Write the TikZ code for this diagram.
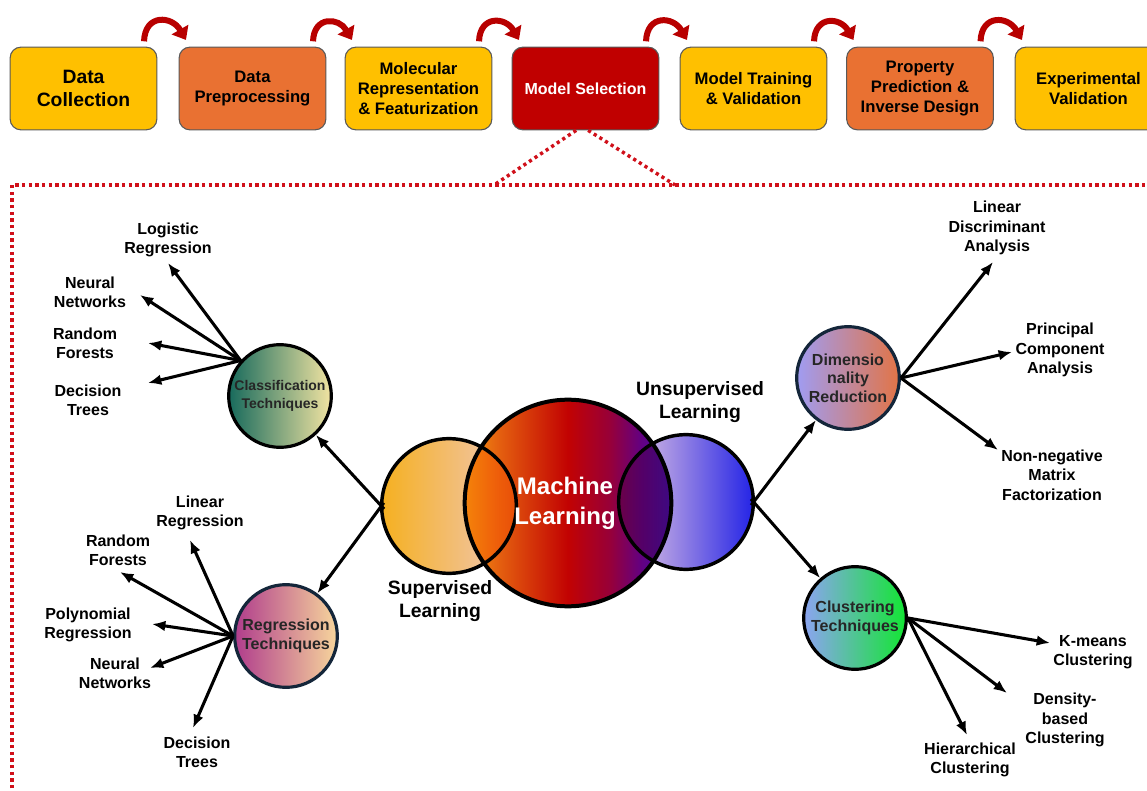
\documentclass[tikz,border=0pt]{standalone}
\usepackage{fontspec}
\setmainfont{Liberation Sans}
\usetikzlibrary{arrows.meta}
\definecolor{boxyellow}{HTML}{FFC000}
\definecolor{boxorange}{HTML}{E97132}
\definecolor{selred}{HTML}{C00000}
\definecolor{flowred}{HTML}{B80000}
\definecolor{dotred}{HTML}{D0101A}
\definecolor{ringnavy}{HTML}{14263A}
\definecolor{supL}{HTML}{F5B020}
\definecolor{supR}{HTML}{F0C8BC}
\definecolor{unsL}{HTML}{F2D2E2}
\definecolor{unsM}{HTML}{B898DC}
\definecolor{unsR}{HTML}{2424E6}
\definecolor{clsL}{HTML}{176A5C}
\definecolor{clsR}{HTML}{F2E4A2}
\definecolor{regL}{HTML}{B03C8C}
\definecolor{regR}{HTML}{F7D69C}
\definecolor{dimL}{HTML}{A09CF2}
\definecolor{dimR}{HTML}{E27446}
\definecolor{cluL}{HTML}{8CA4F2}
\definecolor{cluR}{HTML}{12E632}
\definecolor{mlA}{HTML}{F09A10}
\definecolor{mlB}{HTML}{E66410}
\definecolor{mlC}{HTML}{C20202}
\definecolor{mlD}{HTML}{980038}
\definecolor{mlE}{HTML}{640080}
\definecolor{mlF}{HTML}{3C10B0}
\pgfdeclarehorizontalshading{mlshade}{100bp}{color(0bp)=(mlA); color(25bp)=(mlA);
  color(32.5bp)=(mlB); color(50bp)=(mlC); color(60bp)=(mlD); color(67.5bp)=(mlE);
  color(75bp)=(mlF); color(100bp)=(mlF)}

\begin{document}
\begin{tikzpicture}[x=0.75pt, y=-0.75pt, >={Latex[length=10pt,width=8pt]},
  stage/.style={draw=black!65, line width=0.8pt, rounded corners=8pt, minimum width=110pt,
    minimum height=62pt, align=center, font=\bfseries\fontsize{12.5}{15}\selectfont},
  flowarc/.style={flowred, line width=4.5pt, -{Triangle[length=9pt,width=14pt]}},
  zoomline/.style={dotred, line width=2.6pt, dash pattern=on 2.4pt off 2.6pt},
  ball/.style={circle, draw, line width=2.4pt, minimum size=77pt, inner sep=0pt, align=center,
    font=\bfseries\fontsize{12}{14}\selectfont, text=black!85},
  leaf/.style={align=center, font=\bfseries\fontsize{12}{14.5}\selectfont},
  link/.style={->, line width=2.3pt},
  biglabel/.style={align=center, font=\bfseries\fontsize{14.5}{17}\selectfont}]
  \useasboundingbox (0,0) rectangle (1147,791);

  \node[stage, fill=boxyellow, font=\bfseries\fontsize{14.5}{17.5}\selectfont] (dc) at (83.5,88.5) {Data\\Collection};
  \node[stage, fill=boxorange] (dp) at (252.5,88.5) {Data\\Preprocessing};
  \node[stage, fill=boxyellow] (mr) at (418.5,88.5) {Molecular\\Representation\\\& Featurization};
  \node[stage, fill=selred, text=white, font=\bfseries\fontsize{12}{14}\selectfont] (ms) at (585.5,88.5) {Model Selection};
  \node[stage, fill=boxyellow] (mt) at (753.5,88.5) {Model Training\\\& Validation};
  \node[stage, fill=boxorange] (pp) at (920,88.5) {Property\\Prediction \&\\Inverse Design};
  \node[stage, fill=boxyellow] (ev) at (1088.5,88.5) {Experimental\\Validation};
  \foreach \a/\b in {dc/dp, dp/mr, mr/ms, ms/mt, mt/pp, pp/ev}
    \draw[flowarc] ([xshift=-10pt,yshift=4pt]\a.north east) to[out=88,in=120,looseness=1.7]
      ([xshift=5.5pt,yshift=5pt]\b.north west);

  \draw[zoomline] (12,795) -- (12,185) -- (1152,185);
  \coordinate (zl) at (494,185);
  \coordinate (zr) at (675,185);
  \draw[zoomline] ([xshift=-7pt]ms.south) -- (zl);
  \draw[zoomline] ([xshift=2pt]ms.south) -- (zr);

  \node[circle, minimum size=101pt, left color=supL, right color=supR] (sup) at (449,506) {};
  \node[circle, minimum size=101pt, left color=unsL, middle color=unsM, right color=unsR] (uns) at (686,502) {};
  \node[circle, minimum size=155pt, shading=mlshade] (ml) at (568,503) {};
  \begin{scope}
    \clip (ml.center) circle[radius=77.5pt];
    \fill[orange!70!red, opacity=.35] (sup.center) circle[radius=50.5pt];
    \fill[black!50!violet, opacity=.4] (uns.center) circle[radius=50.5pt];
  \end{scope}
  \draw[line width=2.6pt] (sup.center) circle[radius=50.5pt];
  \draw[line width=2.6pt] (uns.center) circle[radius=50.5pt];
  \draw[line width=3pt] (ml.center) circle[radius=77.5pt];
  \node[align=center, text=white, font=\bfseries\fontsize{18}{22.5}\selectfont] (mllabel) at (565,503) {Machine\\Learning};
  \node[biglabel] (suplabel) at (440,601) {Supervised\\Learning};
  \node[biglabel] (unslabel) at (700,402) {Unsupervised\\Learning};

  \node[ball, left color=clsL, right color=clsR, font=\bfseries\fontsize{10.5}{13}\selectfont] (cls) at (280,396) {Classification\\Techniques};
  \node[ball, draw=ringnavy, left color=regL, right color=regR] (reg) at (286,636) {Regression\\Techniques};
  \node[ball, draw=ringnavy, left color=dimL, right color=dimR] (dim) at (848,378) {Dimensio\\nality\\Reduction};
  \node[ball, left color=cluL, right color=cluR] (clu) at (855,618) {Clustering\\Techniques};

  \draw[link, shorten <=-3pt] (sup.west) -- (cls);
  \draw[link, shorten <=-3pt] (sup.west) -- (reg);
  \draw[link, shorten <=-3pt] (uns.east) -- (dim);
  \draw[link, shorten <=-3pt] (uns.east) -- (clu);

  \foreach \nm/\txt/\lx/\ly/\tx/\ty in {
      lgr/{Logistic\\Regression}/168/240/168/263,
      nnc/{Neural\\Networks}/90/292/140/295,
      rfc/{Random\\Forests}/85/343/148/343,
      dtc/{Decision\\Trees}/88/400/148/383}{
    \node[leaf] (\nm) at (\lx,\ly) {\txt};
    \coordinate (\nm tip) at (\tx,\ty);
    \draw[link] (cls.138) -- (\nm tip);
  }
  \foreach \nm/\txt/\lx/\ly/\tx/\ty in {
      lnr/{Linear\\Regression}/200/513/190/540,
      rfr/{Random\\Forests}/118/550/120/572,
      plr/{Polynomial\\Regression}/88/625/152/624,
      nnr/{Neural\\Networks}/115/673/150/668,
      dtr/{Decision\\Trees}/197/752/193/728}{
    \node[leaf] (\nm) at (\lx,\ly) {\txt};
    \coordinate (\nm tip) at (\tx,\ty);
    \draw[link] (reg.180) -- (\nm tip);
  }
  \foreach \nm/\txt/\lx/\ly/\tx/\ty in {
      lda/{Linear\\Discriminant\\Analysis}/997/228/993/262,
      pca/{Principal\\Component\\Analysis}/1060/350/1012/352,
      nmf/{Non-negative\\Matrix\\Factorization}/1052/475/998/450}{
    \node[leaf] (\nm) at (\lx,\ly) {\txt};
    \coordinate (\nm tip) at (\tx,\ty);
    \draw[link] (dim.0) -- (\nm tip);
  }
  \foreach \nm/\txt/\lx/\ly/\tx/\ty in {
      kmc/{K-means\\Clustering}/1093/652/1050/643,
      dbc/{Density-\\based\\Clustering}/1065/720/1007/693,
      hcl/{Hierarchical\\Clustering}/970/760/967/735}{
    \node[leaf] (\nm) at (\lx,\ly) {\txt};
    \coordinate (\nm tip) at (\tx,\ty);
    \draw[link] (clu.0) -- (\nm tip);
  }
\end{tikzpicture}
\end{document}
